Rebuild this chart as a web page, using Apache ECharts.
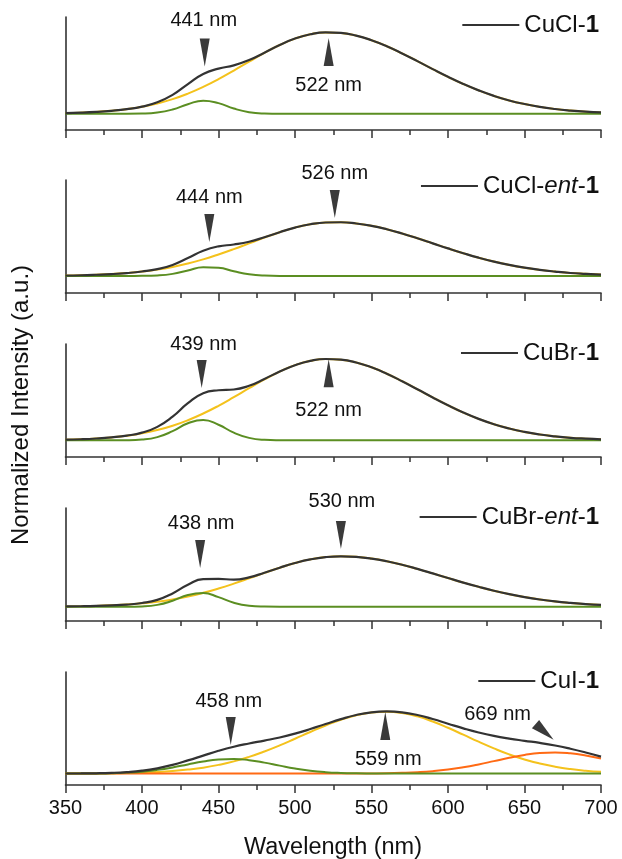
<!DOCTYPE html>
<html><head><meta charset="utf-8">
<script src="https://cdn.jsdelivr.net/npm/echarts@6/dist/echarts.min.js"></script>
<style>html,body{margin:0;padding:0;background:#fff}#c{width:622px;height:859px}</style>
</head><body><div id="c"></div>
<script>
// ---------- DATA ----------
const wavelengths = [350,360,370,380,390,400,410,420,430,440,450,460,470,480,490,500,510,520,530,540,550,560,570,580,590,600,610,620,630,640,650,660,670,680,690,700];
const xTicks = [350,400,450,500,550,600,650,700];

const sampleNames = ['CuCl-1','CuCl-ent-1','CuBr-1','CuBr-ent-1','CuI-1'];

// CuCl-1
const cuCl1Yellow = [.008,.013,.022,.036,.056,.085,.126,.179,.247,.329,.424,.530,.640,.747,.844,.923,.976,.999,.992,.959,.903,.829,.741,.646,.548,.453,.365,.287,.219,.163,.119,.084,.058,.039,.025,.016];
const cuCl1Green  = [0,0,0,0,0,.002,.014,.052,.117,.160,.130,.064,.019,.003,0,0,0,0,0,0,0,0,0,0,0,0,0,0,0,0,0,0,0,0,0,0];
const cuCl1Sum    = [.008,.013,.022,.036,.056,.087,.140,.231,.364,.489,.554,.594,.659,.750,.844,.923,.976,.999,.992,.959,.903,.829,.741,.646,.548,.453,.365,.287,.219,.163,.119,.084,.058,.039,.025,.016];
// CuCl-ent-1
const cuClEnt1Yellow = [.005,.008,.014,.022,.035,.053,.077,.110,.152,.203,.263,.329,.400,.471,.537,.593,.634,.656,.659,.644,.615,.573,.521,.462,.400,.338,.279,.224,.176,.135,.101,.074,.053,.036,.025,.016];
const cuClEnt1Green  = [0,0,0,0,0,.001,.006,.025,.067,.106,.100,.057,.020,.004,0,0,0,0,0,0,0,0,0,0,0,0,0,0,0,0,0,0,0,0,0,0];
const cuClEnt1Sum    = [.005,.008,.014,.022,.035,.054,.083,.135,.219,.309,.363,.386,.420,.475,.537,.593,.634,.656,.659,.644,.615,.573,.521,.462,.400,.338,.279,.224,.176,.135,.101,.074,.053,.036,.025,.016];
// CuBr-1
const cuBr1Yellow = [.008,.013,.022,.036,.056,.085,.126,.179,.247,.329,.424,.530,.640,.747,.844,.923,.976,.999,.991,.956,.897,.818,.726,.627,.526,.430,.341,.263,.198,.145,.103,.071,.048,.031,.020,.012];
const cuBr1Green  = [0,0,0,0,.001,.009,.039,.112,.209,.250,.191,.094,.030,.006,.001,0,0,0,0,0,0,0,0,0,0,0,0,0,0,0,0,0,0,0,0,0];
const cuBr1Sum    = [.008,.013,.022,.036,.057,.094,.165,.291,.456,.579,.615,.624,.670,.753,.845,.923,.976,.999,.991,.956,.897,.818,.726,.627,.526,.430,.341,.263,.198,.145,.103,.071,.048,.031,.020,.012];
// CuBr-ent-1
const cuBrEnt1Yellow = [.004,.006,.010,.017,.027,.042,.062,.090,.126,.171,.224,.284,.349,.416,.480,.537,.582,.610,.620,.613,.592,.559,.516,.465,.410,.353,.297,.245,.197,.155,.119,.089,.065,.047,.033,.022];
const cuBrEnt1Green  = [0,0,0,0,0,.004,.023,.074,.144,.168,.118,.049,.012,.002,0,0,0,0,0,0,0,0,0,0,0,0,0,0,0,0,0,0,0,0,0,0];
const cuBrEnt1Sum    = [.004,.006,.010,.017,.027,.046,.085,.164,.270,.339,.342,.333,.361,.418,.480,.537,.582,.610,.620,.613,.592,.559,.516,.465,.410,.353,.297,.245,.197,.155,.119,.089,.065,.047,.033,.022];
// CuI-1
const cuI1Yellow = [.001,.001,.002,.004,.007,.012,.019,.031,.049,.073,.107,.150,.205,.271,.346,.428,.511,.591,.661,.716,.750,.760,.744,.703,.640,.563,.478,.392,.310,.236,.174,.124,.085,.056,.036,.022];
const cuI1Green  = [0,.001,.002,.005,.012,.024,.046,.076,.113,.148,.173,.180,.165,.135,.098,.063,.036,.018,.008,.003,.001,0,0,0,0,0,0,0,0,0,0,0,0,0,0,0];
const cuI1Orange = [0,0,0,0,0,0,0,0,0,0,0,0,0,0,0,0,0,0,0,.001,.002,.004,.009,.017,.030,.050,.078,.113,.153,.194,.229,.253,.260,.249,.223,.186];
const cuI1Sum    = [.001,.002,.004,.009,.019,.036,.065,.107,.162,.221,.280,.330,.370,.406,.444,.491,.547,.609,.669,.720,.753,.764,.753,.720,.670,.613,.556,.505,.463,.430,.403,.377,.345,.305,.259,.208];

// peak annotations: wavelength marked and height of the arrow tip
const cuCl1Peaks = [441, 522];        const cuCl1Tips = [0.58, 0.93];
const cuClEnt1Peaks = [444, 526];     const cuClEnt1Tips = [0.417, 0.711];
const cuBr1Peaks = [439, 522];        const cuBr1Tips = [0.643, 0.995];
const cuBrEnt1Peaks = [438, 530];     const cuBrEnt1Tips = [0.476, 0.71];
const cuI1Peaks = [458, 559, 669];    const cuI1Tips = [0.351, 0.757, 0.413];

// ---------- LAYOUT / STYLE ----------
const FONT = 'Liberation Sans, Arial, Helvetica, sans-serif';
const C_BLACK = '#333333', C_YELLOW = '#F4C21C', C_GREEN = '#5B8E22', C_ORANGE = '#FF6A14', C_ARROW = '#3a3a3a', C_TEXT = '#111111';
const gridTops = [17, 180, 344, 508, 672];
const gridH = 113;
const yMins = [-0.2, -0.21, -0.205, -0.175, -0.14];
const ySpan = 1.388;
const legendCY = [25, 186, 353, 517, 681];
// arrow kinds: 'd' down, 'u' up, 't' tilted; label offsets relative to tip
const arrowLayout = [
  [{k:'d', lx:-1, ly:-46}, {k:'u', lx:0, ly:47}],
  [{k:'d', lx:0, ly:-44}, {k:'d', lx:0, ly:-45}],
  [{k:'d', lx:2, ly:-43}, {k:'u', lx:0, ly:51}],
  [{k:'d', lx:1, ly:-45}, {k:'d', lx:1, ly:-47}],
  [{k:'d', lx:-2, ly:-44}, {k:'u', lx:3, ly:48}, {k:'t', lx:-56, ly:-25}]
];

const panels = [
  {yellow: cuCl1Yellow, green: cuCl1Green, sum: cuCl1Sum, peaks: cuCl1Peaks, tips: cuCl1Tips},
  {yellow: cuClEnt1Yellow, green: cuClEnt1Green, sum: cuClEnt1Sum, peaks: cuClEnt1Peaks, tips: cuClEnt1Tips},
  {yellow: cuBr1Yellow, green: cuBr1Green, sum: cuBr1Sum, peaks: cuBr1Peaks, tips: cuBr1Tips},
  {yellow: cuBrEnt1Yellow, green: cuBrEnt1Green, sum: cuBrEnt1Sum, peaks: cuBrEnt1Peaks, tips: cuBrEnt1Tips},
  {yellow: cuI1Yellow, green: cuI1Green, orange: cuI1Orange, sum: cuI1Sum, peaks: cuI1Peaks, tips: cuI1Tips}
];

const zip = arr => wavelengths.map((w, i) => [w, arr[i]]);

const grid = [], xAxis = [], yAxis = [], series = [], legend = [];
panels.forEach((p, i) => {
  grid.push({left: 65.5, right: 21, top: gridTops[i], height: gridH});
  const last = i === panels.length - 1;
  xAxis.push({
    type: 'value', gridIndex: i, min: 350, max: 700, interval: 50,
    axisLine: {show: true, onZero: false, lineStyle: {color: C_BLACK, width: 1.6}},
    axisTick: {show: true, length: 8, lineStyle: {color: C_BLACK, width: 1.5}},
    minorTick: {show: true, splitNumber: 2, length: 5, lineStyle: {color: C_BLACK, width: 1.5}},
    splitLine: {show: false}, minorSplitLine: {show: false},
    axisLabel: {show: last, fontSize: 20, fontFamily: FONT, color: C_TEXT, margin: 13,
      formatter: v => xTicks.includes(v) ? String(v) : ''}
  });
  yAxis.push({
    type: 'value', gridIndex: i, min: yMins[i], max: yMins[i] + ySpan,
    axisLine: {show: true, onZero: false, lineStyle: {color: C_BLACK, width: 1.6}},
    axisTick: {show: false}, axisLabel: {show: false}, splitLine: {show: false}
  });
  const base = {type: 'line', xAxisIndex: i, yAxisIndex: i, showSymbol: false, symbol: 'none', smooth: 0.5, silent: true};
  series.push(Object.assign({}, base, {name: 'fitY' + i, data: zip(p.yellow), z: 2, lineStyle: {color: C_YELLOW, width: 2}, itemStyle: {color: C_YELLOW}}));
  if (p.orange) series.push(Object.assign({}, base, {name: 'fitO' + i, data: zip(p.orange), z: 3, lineStyle: {color: C_ORANGE, width: 2}, itemStyle: {color: C_ORANGE}}));
  series.push(Object.assign({}, base, {name: 'fitG' + i, data: zip(p.green), z: 4, lineStyle: {color: C_GREEN, width: 2}, itemStyle: {color: C_GREEN}}));
  series.push(Object.assign({}, base, {name: sampleNames[i], data: zip(p.sum), z: 5, color: C_BLACK, lineStyle: {color: C_BLACK, width: 2.2}, itemStyle: {color: C_BLACK}}));

  // arrows
  const arrowData = p.peaks.map((nm, j) => {
    const k = arrowLayout[i][j].k;
    let rot = 0, off = [0, 14], size = [10, 28];
    if (k === 'd') { rot = 180; off = [0, -14]; }
    if (k === 't') { rot = -131; off = [-9, -8]; size = [11, 24]; }
    return {value: [nm, p.tips[j]], symbolRotate: rot, symbolOffset: off, symbolSize: size};
  });
  series.push({type: 'scatter', xAxisIndex: i, yAxisIndex: i, symbol: 'triangle', z: 6, silent: true,
    itemStyle: {color: C_ARROW, opacity: 1}, data: arrowData});
  // arrow labels
  const labelData = p.peaks.map((nm, j) => ({
    value: [nm, p.tips[j]], name: nm + ' nm',
    label: {offset: [arrowLayout[i][j].lx, arrowLayout[i][j].ly]}
  }));
  series.push({type: 'scatter', xAxisIndex: i, yAxisIndex: i, symbol: 'circle', symbolSize: 1, z: 7, silent: true,
    itemStyle: {color: 'rgba(255,255,255,0)', opacity: 1},
    label: {show: true, position: 'inside', formatter: d => d.name, fontSize: 20, fontFamily: FONT,
      color: C_TEXT, opacity: 1, textBorderWidth: 0},
    data: labelData});

  legend.push({
    data: [sampleNames[i]], right: 23, top: legendCY[i] - 13, padding: 0,
    icon: 'rect', itemWidth: 57, itemHeight: 2, selectedMode: false,
    textStyle: {fontSize: 24, fontFamily: FONT, color: C_TEXT, lineHeight: 26,
      rich: {
        a: {fontSize: 24, fontFamily: FONT, color: C_TEXT, lineHeight: 26},
        i: {fontSize: 24, fontFamily: FONT, color: C_TEXT, fontStyle: 'italic', lineHeight: 26},
        b: {fontSize: 24, fontFamily: FONT, color: C_TEXT, fontWeight: 'bold', lineHeight: 26}
      }},
    formatter: name => {
      const parts = name.split('-');
      const last = parts.pop();
      let s = '';
      parts.forEach((pt, idx) => {
        s += (idx === 1 ? '{i|' + pt + '}' : '{a|' + pt + '}') + '{a|-}';
      });
      return s + '{b|' + last + '}';
    }
  });
});

const chart = echarts.init(document.getElementById('c'), null, {renderer: 'canvas'});
chart.setOption({
  animation: false,
  backgroundColor: '#ffffff',
  grid, xAxis, yAxis, series, legend,
  graphic: [
    {type: 'text', x: 21, y: 405, rotation: Math.PI / 2,
      style: {text: 'Normalized Intensity (a.u.)', fontSize: 24, fontFamily: FONT, fill: C_TEXT, align: 'center', verticalAlign: 'middle'}},
    {type: 'text', x: 333, y: 848,
      style: {text: 'Wavelength (nm)', fontSize: 23.5, fontFamily: FONT, fill: C_TEXT, align: 'center', verticalAlign: 'middle'}}
  ]
});
</script></body></html>
